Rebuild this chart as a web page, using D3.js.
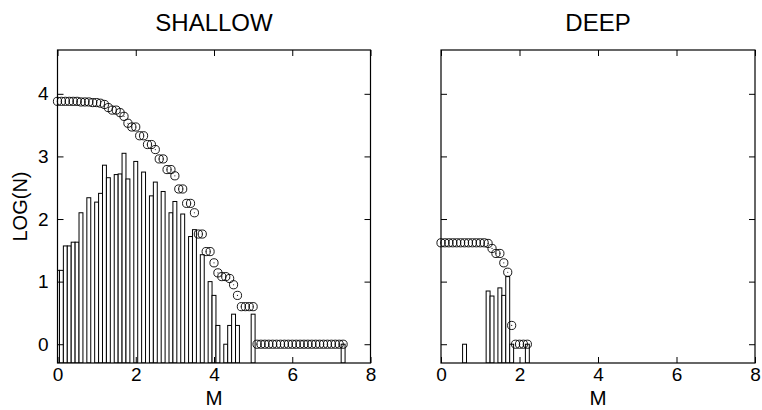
<!DOCTYPE html>
<html>
<head>
<meta charset="utf-8">
<script src="https://cdn.jsdelivr.net/npm/d3@7"></script>
<style>
  body { margin: 0; background: #fff; }
  text { font-family: "Liberation Sans", Arial, sans-serif; fill: #000; }
</style>
</head>
<body>
<script>
// histogram bars: log10 of count per 0.1 magnitude bin (empty bins left out)
const shallowBarM = [0.0,0.1,0.2,0.3,0.4,0.5,0.6,0.8,1.0,1.1,1.2,1.3,1.5,1.6,1.7,1.8,2.0,2.2,2.4,2.5,2.7,2.9,3.0,3.2,3.4,3.5,3.7,3.9,4.0,4.1,4.3,4.4,4.5,4.6,5.0,7.3]
const shallowBarLogN = [1.18,1.18,1.57,1.57,1.63,1.63,2.10,2.34,2.27,2.41,2.86,2.66,2.71,2.72,3.05,2.64,2.92,2.75,2.37,2.59,2.44,2.10,2.28,2.08,1.72,1.83,1.43,1.00,0.78,0.30,0.00,0.30,0.48,0.30,0.48,0.00]

// circles: cumulative log10 N(>=M)
const shallowCumM = [0.0,0.1,0.2,0.3,0.4,0.5,0.6,0.7,0.8,0.9,1.0,1.1,1.2,1.3,1.4,1.5,1.6,1.7,1.8,1.9,2.0,2.1,2.2,2.3,2.4,2.5,2.6,2.7,2.8,2.9,3.0,3.1,3.2,3.3,3.4,3.5,3.6,3.7,3.8,3.9,4.0,4.1,4.2,4.3,4.4,4.5,4.6,4.7,4.8,4.9,5.0,5.1,5.2,5.3,5.4,5.5,5.6,5.7,5.8,5.9,6.0,6.1,6.2,6.3,6.4,6.5,6.6,6.7,6.8,6.9,7.0,7.1,7.2,7.3]
const shallowCumLogN = [3.88,3.88,3.88,3.88,3.88,3.88,3.87,3.87,3.87,3.86,3.86,3.85,3.83,3.78,3.74,3.74,3.70,3.64,3.53,3.47,3.47,3.33,3.33,3.19,3.19,3.11,2.96,2.96,2.79,2.79,2.69,2.48,2.48,2.25,2.25,2.10,1.76,1.76,1.48,1.48,1.30,1.14,1.08,1.08,1.05,0.95,0.78,0.60,0.60,0.60,0.60,0,0,0,0,0,0,0,0,0,0,0,0,0,0,0,0,0,0,0,0,0,0,0]

const deepBarM = [0.6,1.2,1.3,1.5,1.6,1.7,1.8,2.2]
const deepBarLogN = [0.00,0.85,0.77,0.90,0.78,1.08,0.00,0.00]

const deepCumM = [0.0,0.1,0.2,0.3,0.4,0.5,0.6,0.7,0.8,0.9,1.0,1.1,1.2,1.3,1.4,1.5,1.6,1.7,1.8,1.9,2.0,2.1,2.2]
const deepCumLogN = [1.62,1.62,1.62,1.62,1.62,1.62,1.62,1.62,1.62,1.62,1.62,1.62,1.61,1.53,1.45,1.45,1.30,1.15,0.30,0,0,0,0]

const xTicks = [0, 2, 4, 6, 8]
const yTicks = [0, 1, 2, 3, 4]
const xDomain = [0, 8]
const yDomain = [-0.3, 4.7]
const binWidth = 0.1

const w = 762
const h = 410
const plotTop = 50, plotBottom = 363

const panels = [
  { title: "SHALLOW", left: 57.5, right: 370.5, barM: shallowBarM, barV: shallowBarLogN, cumM: shallowCumM, cumV: shallowCumLogN, yLabels: true },
  { title: "DEEP", left: 441, right: 755, barM: deepBarM, barV: deepBarLogN, cumM: deepCumM, cumV: deepCumLogN, yLabels: false }
]

const svgarea = d3.select("body")
  .append("svg")
  .attr("width", w)
  .attr("height", h)

const yscale = d3.scaleLinear().domain(yDomain).range([plotBottom, plotTop])

panels.forEach((p, k) => {
  const xscale = d3.scaleLinear().domain(xDomain).range([p.left, p.right])
  const g = svgarea.append("g")

  g.append("clipPath")
    .attr("id", "clip" + k)
    .append("rect")
    .attr("x", p.left)
    .attr("y", plotTop)
    .attr("width", p.right - p.left)
    .attr("height", plotBottom - plotTop)

  const bars = p.barM.map((m, i) => [m, p.barV[i]])
  g.append("g")
    .attr("clip-path", "url(#clip" + k + ")")
    .selectAll("rect")
    .data(bars)
    .enter()
    .append("rect")
    .attr("x", d => xscale(d[0] - binWidth / 2))
    .attr("y", d => yscale(d[1]))
    .attr("width", xscale(binWidth) - xscale(0))
    .attr("height", d => yscale(yDomain[0]) - yscale(d[1]))
    .attr("fill", "#fff")
    .attr("stroke", "#000")
    .attr("stroke-width", 1)

  const pts = p.cumM.map((m, i) => [m, p.cumV[i]])
  const cg = g.append("g")
  cg.selectAll("circle.o")
    .data(pts)
    .enter()
    .append("circle")
    .attr("class", "o")
    .attr("cx", d => xscale(d[0]))
    .attr("cy", d => yscale(d[1]))
    .attr("r", 4.1)
    .attr("fill", "none")
    .attr("stroke", "#000")
    .attr("stroke-width", 0.9)
  cg.selectAll("circle.dot")
    .data(pts)
    .enter()
    .append("circle")
    .attr("class", "dot")
    .attr("cx", d => xscale(d[0]))
    .attr("cy", d => yscale(d[1]))
    .attr("r", 0.6)
    .attr("fill", "#222")

  // axes with inward ticks on all four sides
  const axB = g.append("g").attr("transform", "translate(0," + plotBottom + ")")
    .call(d3.axisBottom(xscale).tickValues(xTicks).tickSize(-6).tickPadding(5).tickFormat(d3.format("d")))
  const axT = g.append("g").attr("transform", "translate(0," + plotTop + ")")
    .call(d3.axisTop(xscale).tickValues(xTicks).tickSize(-6).tickFormat(""))
  const axL = g.append("g").attr("transform", "translate(" + p.left + ",0)")
    .call(d3.axisLeft(yscale).tickValues(yTicks).tickSize(-6).tickPadding(9)
      .tickFormat(p.yLabels ? d3.format("d") : ""))
  const axR = g.append("g").attr("transform", "translate(" + p.right + ",0)")
    .call(d3.axisRight(yscale).tickValues(yTicks).tickSize(-6).tickFormat(""))

  ;[axB, axT, axL, axR].forEach(a => {
    a.select(".domain").remove()
    a.selectAll("line").attr("stroke", "#000").attr("stroke-width", 1)
    a.selectAll("text").attr("font-size", 19).attr("font-family", "Liberation Sans, Arial, sans-serif").attr("fill", "#000")
  })

  g.append("rect")
    .attr("x", p.left)
    .attr("y", plotTop)
    .attr("width", p.right - p.left)
    .attr("height", plotBottom - plotTop)
    .attr("fill", "none")
    .attr("stroke", "#000")
    .attr("stroke-width", 1.2)

  const cx = (p.left + p.right) / 2
  g.append("text")
    .attr("x", cx)
    .attr("y", 31)
    .attr("text-anchor", "middle")
    .attr("font-size", 24)
    .text(p.title)

  g.append("text")
    .attr("x", cx)
    .attr("y", 405)
    .attr("text-anchor", "middle")
    .attr("font-size", 20.5)
    .text("M")

  if (p.yLabels) {
    g.append("text")
      .attr("transform", "translate(27," + ((plotTop + plotBottom) / 2) + ") rotate(-90)")
      .attr("text-anchor", "middle")
      .attr("font-size", 20)
      .text("LOG(N)")
  }
})
</script>
</body>
</html>
